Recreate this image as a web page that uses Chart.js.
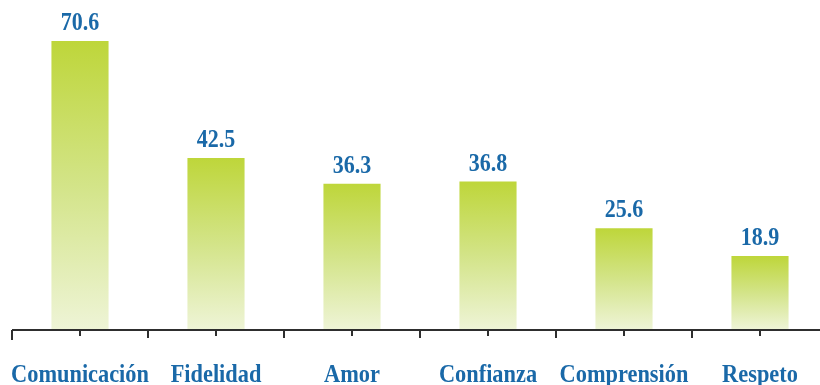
<!DOCTYPE html>
<html lang="es">
<head>
<meta charset="utf-8">
<title>Valores en la pareja</title>
<script src="https://cdn.jsdelivr.net/npm/chart.js@4/dist/chart.umd.min.js"></script>
<style>
  html, body { margin: 0; padding: 0; background: #ffffff; overflow: hidden; }
  #wrap { width: 820px; height: 385px; overflow: hidden; }
  canvas { display: block; }
</style>
</head>
<body>
<div id="wrap"><canvas id="chart" width="830" height="385"></canvas></div>
<script>
// Categories and percentages
const categories = ['Comunicación', 'Fidelidad', 'Amor', 'Confianza', 'Comprensión', 'Respeto'];
const values = [70.6, 42.5, 36.3, 36.8, 25.6, 18.9];

const TEXT_BLUE = '#1a69a8';
const BAR_TOP = 'rgb(190, 214, 58)';
const BAR_MID = 'rgb(211, 228, 136)';
const BAR_BOTTOM = 'rgb(238, 244, 214)';
const AXIS_COLOR = '#2e2e2e';
const FONT = '"Liberation Serif", "Times New Roman", serif';

// Each bar fades from saturated green at its top to pale at the axis
function barGradient(ctx) {
  const chart = ctx.chart;
  const area = chart.chartArea;
  if (!area || ctx.raw === undefined) return BAR_TOP;
  const yTop = chart.scales.y.getPixelForValue(ctx.raw);
  const g = chart.ctx.createLinearGradient(0, yTop, 0, area.bottom);
  g.addColorStop(0, BAR_TOP);
  g.addColorStop(0.5, BAR_MID);
  g.addColorStop(1, BAR_BOTTOM);
  return g;
}

// Draws a horizontally condensed string centred on x
function condensedText(c, text, x, y, size, squeeze) {
  c.save();
  c.font = 'bold ' + size + 'px ' + FONT;
  c.fillStyle = TEXT_BLUE;
  c.textAlign = 'center';
  c.textBaseline = 'alphabetic';
  c.translate(x, y);
  c.scale(squeeze, 1);
  c.fillText(text, 0, 0);
  c.restore();
}

// Axis line, tick marks, category names and value labels
const decorations = {
  id: 'decorations',
  afterDatasetsDraw(chart) {
    const c = chart.ctx;
    const area = chart.chartArea;
    const xs = chart.scales.x;
    const axisY = area.bottom + 1;

    c.save();
    c.strokeStyle = AXIS_COLOR;
    c.lineWidth = 2;
    c.beginPath();
    c.moveTo(area.left, axisY);
    c.lineTo(area.right, axisY);
    c.stroke();

    c.lineWidth = 2;
    const half = (xs.getPixelForValue(1) - xs.getPixelForValue(0)) / 2;
    categories.forEach((_, i) => {
      const cx = xs.getPixelForValue(i);
      // centre tick
      c.beginPath();
      c.moveTo(cx, axisY);
      c.lineTo(cx, axisY + 6);
      c.stroke();
      // boundary tick
      const bx = cx - half;
      c.beginPath();
      c.moveTo(bx, axisY);
      c.lineTo(bx, axisY + (i === 0 ? 10 : 8));
      c.stroke();
    });
    c.restore();

    const meta = chart.getDatasetMeta(0);
    meta.data.forEach((bar, i) => {
      condensedText(c, values[i].toFixed(1), bar.x, bar.y - 11, 25, 0.88);
      condensedText(c, categories[i], xs.getPixelForValue(i), 382, 26, 0.86);
    });
  }
};

new Chart(document.getElementById('chart'), {
  type: 'bar',
  data: {
    labels: categories,
    datasets: [{
      data: values,
      backgroundColor: barGradient,
      borderWidth: 0,
      barPercentage: 0.84,
      categoryPercentage: 0.5
    }]
  },
  options: {
    responsive: false,
    animation: false,
    events: [],
    layout: { padding: { left: 12, right: 2, top: 2, bottom: 56 } },
    plugins: {
      legend: { display: false },
      tooltip: { enabled: false },
      title: { display: false }
    },
    scales: {
      x: { display: false, offset: true },
      y: { display: false, min: 1.35, max: 80 }
    }
  },
  plugins: [decorations]
});
</script>
</body>
</html>
